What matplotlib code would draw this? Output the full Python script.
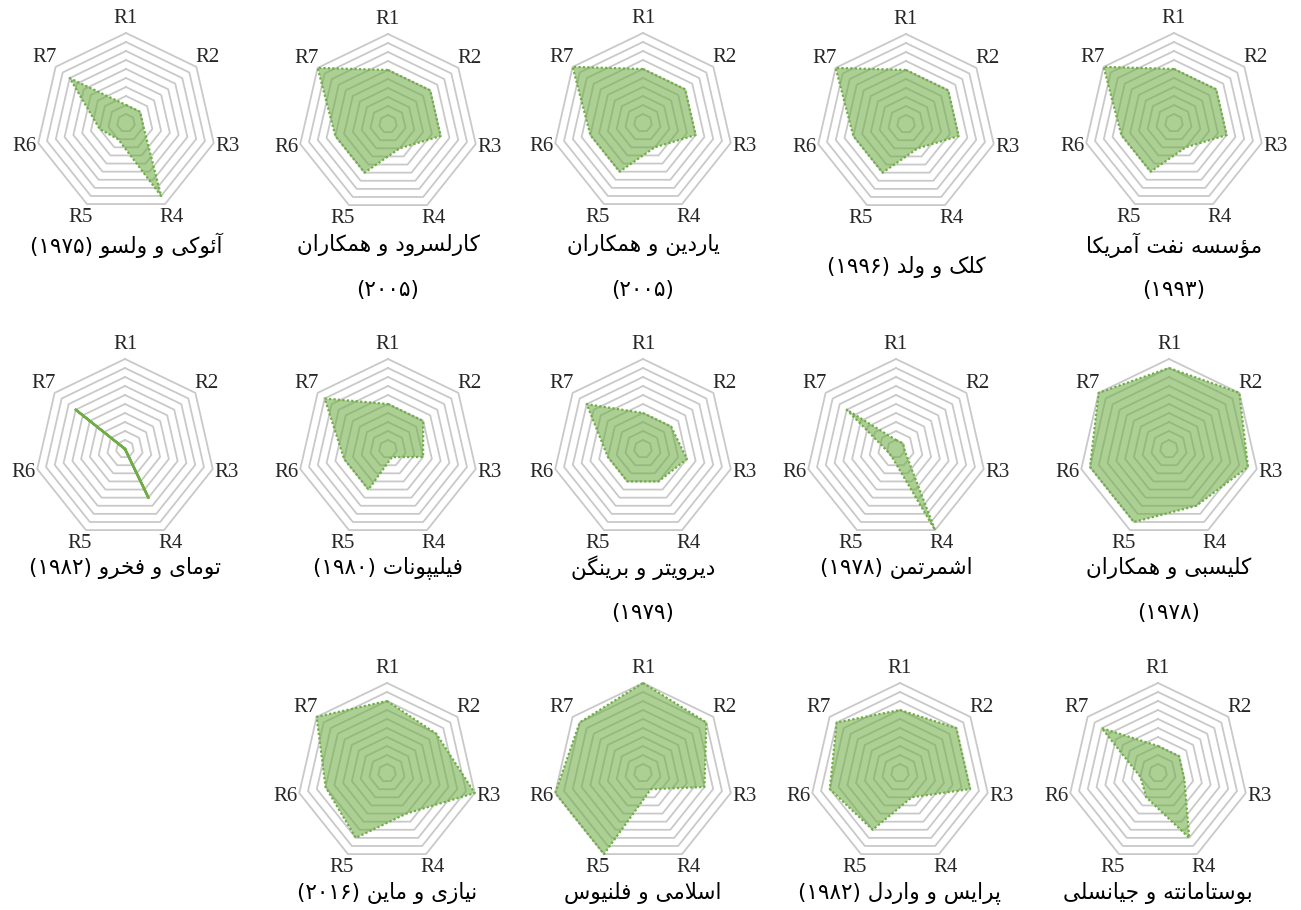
"""Radar charts of seven criteria (R1-R7) for fourteen studies, 5-5-4 grid."""

import re

import matplotlib
matplotlib.use("Agg")
import matplotlib.pyplot as plt
import numpy as np


FIG_W, FIG_H = 1301, 910

AXIS_LABELS = ["R1", "R2", "R3", "R4", "R5", "R6", "R7"]

# values per study, scale 0-10 (read from the rings)
api_1993 = [6, 6, 6, 3, 6, 6, 10]
kalk_1996 = [6, 6, 6, 3, 6, 6, 10]
yardin_2005 = [6, 6, 6, 3, 6, 6, 10]
karlsrud_2005 = [6, 6, 6, 3, 6, 6, 10]
aoki_1975 = [2, 2, 2, 9, 2, 3, 8]
kelisbi_1978 = [9, 10, 9, 7, 9, 9, 10]
eshmertman_1978 = [1, 1, 1, 10, 1, 1, 7]
diroyter_1979 = [4, 4, 5, 4, 4, 4, 8]
filipponat_1980 = [5, 5, 4, 1, 5, 5, 9]
toumay_1982 = [0, 0, 0, 6, 0, 0, 7]
bustamante = [3, 3, 3, 8, 3, 2, 8]
price_1982 = [7, 8, 8, 3, 7, 8, 9]
eslami = [10, 9, 7, 2, 10, 10, 9]
niazi_2016 = [8, 7, 10, 5, 8, 7, 10]

SERIES = [
    api_1993, kalk_1996, yardin_2005, karlsrud_2005, aoki_1975,
    kelisbi_1978, eshmertman_1978, diroyter_1979, filipponat_1980, toumay_1982,
    bustamante, price_1982, eslami, niazi_2016,
]

TITLES = [
    "مؤسسه نفت آمریکا\n(۱۹۹۳)",
    "کلک و ولد (۱۹۹۶)",
    "یاردین و همکاران\n(۲۰۰۵)",
    "کارلسرود و همکاران\n(۲۰۰۵)",
    "آئوکی و ولسو (۱۹۷۵)",
    "کلیسبی و همکاران\n(۱۹۷۸)",
    "اشمرتمن (۱۹۷۸)",
    "دیرویتر و برینگن\n(۱۹۷۹)",
    "فیلیپونات (۱۹۸۰)",
    "تومای و فخرو (۱۹۸۲)",
    "بوستامانته و جیانسلی",
    "پرایس و واردل (۱۹۸۲)",
    "اسلامی و فلنیوس",
    "نیازی و ماین (۲۰۱۶)",
]

# chart centre (px) and first title line y (px), right-to-left per row
LAYOUT = [
    (1174, 123, 245), (906, 124, 267), (643, 123, 245), (388, 124, 245), (126, 123, 245),
    (1169, 449, 568), (896, 449, 568), (643, 449, 568), (388, 449, 568), (125, 449, 568),
    (1158, 773, 893), (900, 773, 893), (643, 773, 893), (387, 773, 893),
]

RADIUS_PX = 90
HALF = 1.3
LINE_GAP = 45

GRID_COLOR = "#C9C9C9"
SERIES_COLOR = "#70AD47"


# --- minimal Persian shaping (presentation forms + visual order) ---
FORMS = {
    "\u0622": ("\uFE81", "\uFE82", None, None),
    "\u0624": ("\uFE85", "\uFE86", None, None),
    "\u0626": ("\uFE89", "\uFE8A", "\uFE8B", "\uFE8C"),
    "\u0627": ("\uFE8D", "\uFE8E", None, None),
    "\u0628": ("\uFE8F", "\uFE90", "\uFE91", "\uFE92"),
    "\u062A": ("\uFE95", "\uFE96", "\uFE97", "\uFE98"),
    "\u062C": ("\uFE9D", "\uFE9E", "\uFE9F", "\uFEA0"),
    "\u062E": ("\uFEA5", "\uFEA6", "\uFEA7", "\uFEA8"),
    "\u062F": ("\uFEA9", "\uFEAA", None, None),
    "\u0631": ("\uFEAD", "\uFEAE", None, None),
    "\u0632": ("\uFEAF", "\uFEB0", None, None),
    "\u0633": ("\uFEB1", "\uFEB2", "\uFEB3", "\uFEB4"),
    "\u0634": ("\uFEB5", "\uFEB6", "\uFEB7", "\uFEB8"),
    "\u0641": ("\uFED1", "\uFED2", "\uFED3", "\uFED4"),
    "\u0644": ("\uFEDD", "\uFEDE", "\uFEDF", "\uFEE0"),
    "\u0645": ("\uFEE1", "\uFEE2", "\uFEE3", "\uFEE4"),
    "\u0646": ("\uFEE5", "\uFEE6", "\uFEE7", "\uFEE8"),
    "\u0647": ("\uFEE9", "\uFEEA", "\uFEEB", "\uFEEC"),
    "\u0648": ("\uFEED", "\uFEEE", None, None),
    "\u067E": ("\uFB56", "\uFB57", "\uFB58", "\uFB59"),
    "\u06A9": ("\uFB8E", "\uFB8F", "\uFB90", "\uFB91"),
    "\u06AF": ("\uFB92", "\uFB93", "\uFB94", "\uFB95"),
    "\u06CC": ("\uFBFC", "\uFBFD", "\uFBFE", "\uFBFF"),
    "\u0644\u0627": ("\uFEFB", "\uFEFC", None, None),
    "\u0644\u0622": ("\uFEF5", "\uFEF6", None, None),
}


def shape_fa(text):
    units = []
    i = 0
    while i < len(text):
        pair = text[i:i + 2]
        if pair in FORMS:
            units.append(pair)
            i += 2
        else:
            units.append(text[i])
            i += 1

    out = []
    for k, u in enumerate(units):
        f = FORMS.get(u)
        if f is None:
            out.append(u)
            continue
        prev = units[k - 1] if k > 0 else None
        nxt = units[k + 1] if k + 1 < len(units) else None
        cp = prev in FORMS and FORMS[prev][2] is not None
        cn = f[2] is not None and nxt in FORMS
        if cp and cn:
            out.append(f[3])
        elif cp:
            out.append(f[1])
        elif cn:
            out.append(f[2])
        else:
            out.append(f[0])

    vis = "".join(out)[::-1]
    vis = vis.translate(str.maketrans("()", ")("))
    vis = re.sub("[\u06F0-\u06F90-9]+", lambda m: m.group(0)[::-1], vis)
    return vis


def draw_radar(fig, values, cx, cy):
    half_px = HALF * RADIUS_PX
    ax = fig.add_axes([
        (cx - half_px) / FIG_W, 1 - (cy + half_px) / FIG_H,
        2 * half_px / FIG_W, 2 * half_px / FIG_H,
    ])
    ax.set_xlim(-HALF, HALF)
    ax.set_ylim(-HALF, HALF)
    ax.axis("off")

    n = len(AXIS_LABELS)
    ang = np.pi / 2 - 2 * np.pi * np.arange(n) / n
    ca, sa = np.cos(ang), np.sin(ang)

    for level in np.arange(1, 11) / 10:
        ax.plot(np.append(ca, ca[0]) * level, np.append(sa, sa[0]) * level,
                color=GRID_COLOR, lw=1.3, zorder=1)

    r = np.asarray(values, dtype=float) / 10
    xs, ys = r * ca, r * sa
    area = 0.5 * abs(np.dot(xs, np.roll(ys, 1)) - np.dot(ys, np.roll(xs, 1)))
    xs_c, ys_c = np.append(xs, xs[0]), np.append(ys, ys[0])
    if area < 1e-6:
        ax.plot(xs_c, ys_c, color=SERIES_COLOR, lw=1.8, zorder=3)
    else:
        ax.fill(xs, ys, color=SERIES_COLOR, alpha=0.58, lw=0, zorder=2)
        ax.plot(xs_c, ys_c, color=SERIES_COLOR, lw=1.6, ls=(0, (1, 1)), zorder=3)

    for lab, c, s in zip(AXIS_LABELS, ca, sa):
        ax.text(1.16 * c, 1.16 * s, lab, ha="center", va="center",
                fontsize=15, family="Liberation Serif", color="#262626")


def main():
    fig = plt.figure(figsize=(FIG_W / 100, FIG_H / 100), dpi=100)
    fig.patch.set_facecolor("white")

    for values, title, (cx, cy, ty) in zip(SERIES, TITLES, LAYOUT):
        draw_radar(fig, values, cx, cy)
        for j, line in enumerate(title.split("\n")):
            fig.text(cx / FIG_W, 1 - (ty + j * LINE_GAP) / FIG_H, shape_fa(line),
                     ha="center", va="center", fontsize=15.5, family="DejaVu Sans")

    fig.savefig("out.png", dpi=100, facecolor="white")
    plt.close(fig)


if __name__ == "__main__":
    main()
